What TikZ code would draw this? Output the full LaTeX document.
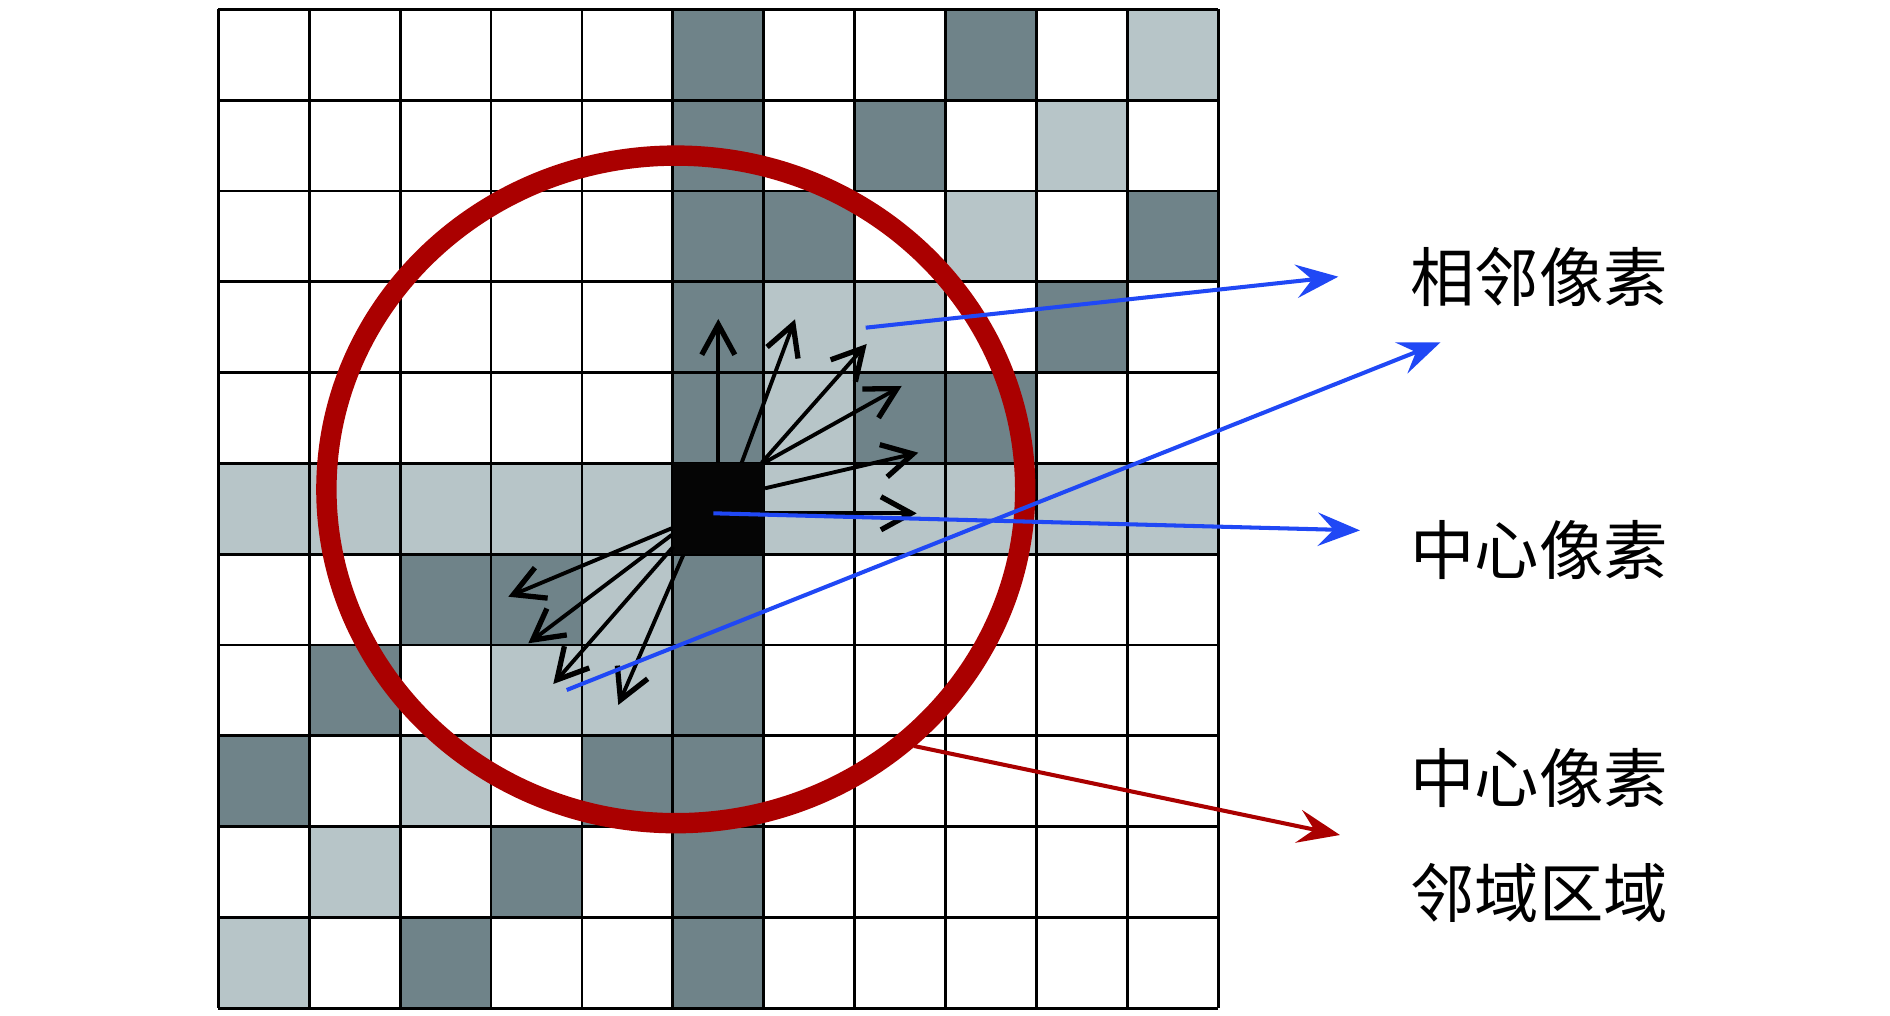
\documentclass[tikz,border=0pt]{standalone}
\usepackage{fontspec}
\newfontfamily\cjk{Noto Sans CJK SC}
\usetikzlibrary{arrows.meta}
\definecolor{darkcell}{RGB}{111,131,137}
\definecolor{lightcell}{RGB}{183,197,200}
\definecolor{ringred}{RGB}{170,0,0}
\definecolor{arrowblue}{RGB}{32,72,245}
\begin{document}
\begin{tikzpicture}[x=0.01cm,y=-0.01cm,
  gridline/.style={line width=0.8pt,black},
  darkfill/.style={fill=darkcell},
  lightfill/.style={fill=lightcell},
  centerfill/.style={fill=black!98},
  blackarrow/.style={line width=1.1pt,black,-{Straight Barb[length=8.6pt,width=9.4pt,line width=1.5pt]}},
  bluearrow/.style={line width=1.15pt,arrowblue,-{Stealth[length=12pt,width=9.5pt,inset=4.5pt]}},
  redarrow/.style={line width=1.15pt,ringred,-{Stealth[length=12pt,width=9.5pt,inset=4.5pt]}},
  redring/.style={line width=5.8pt,ringred},
  labeltext/.style={font=\cjk\fontsize{18.3pt}{22pt}\selectfont,inner sep=0pt,anchor=center}]
\useasboundingbox (0,0) rectangle (1890,1016);
\def\xo{218.3}\def\yo{9.3}\def\cw{90.91}\def\ch{90.82}
% dark cells (col/row)
\foreach \c/\r in {5/0,8/0,5/1,7/1,5/2,6/2,10/2,5/3,9/3,5/4,7/4,8/4,2/6,3/6,5/6,1/7,5/7,0/8,4/8,5/8,3/9,5/9,2/10,5/10}
  \fill[darkfill] ({\xo+\c*\cw},{\yo+\r*\ch}) rectangle ({\xo+(\c+1)*\cw},{\yo+(\r+1)*\ch});
% light cells
\foreach \c/\r in {10/0,9/1,8/2,6/3,7/3,6/4,0/5,1/5,2/5,3/5,4/5,6/5,7/5,8/5,9/5,10/5,4/6,3/7,4/7,2/8,1/9,0/10}
  \fill[lightfill] ({\xo+\c*\cw},{\yo+\r*\ch}) rectangle ({\xo+(\c+1)*\cw},{\yo+(\r+1)*\ch});
% grid lines
\foreach \i in {0,...,11} {
  \draw[gridline] ({\xo+\i*\cw},\yo) -- ({\xo+\i*\cw},{\yo+11*\ch});
  \draw[gridline] (\xo,{\yo+\i*\ch}) -- ({\xo+11*\cw},{\yo+\i*\ch});
}
% centre pixel
\fill[centerfill] ({\xo+5*\cw},{\yo+5*\ch}) rectangle ({\xo+6*\cw},{\yo+6*\ch});
% black arrows, upper right
\coordinate (u1s) at (718.3,462.7); \coordinate (u1e) at (718.3,319);
\coordinate (u2s) at (741.7,462.7); \coordinate (u2e) at (795,319.3);
\coordinate (u3s) at (761.7,462.7); \coordinate (u3e) at (866.7,344);
\coordinate (u4s) at (763.7,463);   \coordinate (u4e) at (901.7,386);
\coordinate (u5s) at (765,488.3);   \coordinate (u5e) at (918.3,452.7);
\coordinate (u6s) at (763.7,513.3); \coordinate (u6e) at (916.7,513.3);
\foreach \k in {1,...,6} \draw[blackarrow] (u\k s) -- (u\k e);
% black arrows, lower left
\coordinate (d1s) at (671.7,528.3); \coordinate (d1e) at (508.3,596.7);
\coordinate (d2s) at (671.7,535);   \coordinate (d2e) at (528.3,643.3);
\coordinate (d3s) at (673.3,546.7); \coordinate (d3e) at (553.3,684);
\coordinate (d4s) at (683.3,555);   \coordinate (d4e) at (618.3,705);
\foreach \k in {1,...,4} \draw[blackarrow] (d\k s) -- (d\k e);
% red neighbourhood ring
\draw[redring] (675.8,489.4) ellipse [x radius=3.492cm, y radius=3.336cm];
% labels
\node[labeltext] (t1) at (1539,277) {相邻像素};
\node[labeltext] (t2) at (1539,550) {中心像素};
\node[labeltext] (t3) at (1539,778) {中心像素};
\node[labeltext] (t4) at (1539,893) {邻域区域};
% blue arrows
\coordinate (b1s) at (865.7,327.7); \coordinate (b1e) at (1338.3,276.7);
\coordinate (b2s) at (566.7,690);   \coordinate (b2e) at (1440.5,342.3);
\coordinate (b3s) at (713.3,513.3); \coordinate (b3e) at (1360,530.4);
\draw[bluearrow] (b1s) -- (b1e);
\draw[bluearrow] (b2s) -- (b2e);
\draw[bluearrow] (b3s) -- (b3e);
% red arrow
\coordinate (r1s) at (914,746); \coordinate (r1e) at (1340,835);
\draw[redarrow] (r1s) -- (r1e);
\end{tikzpicture}
\end{document}
